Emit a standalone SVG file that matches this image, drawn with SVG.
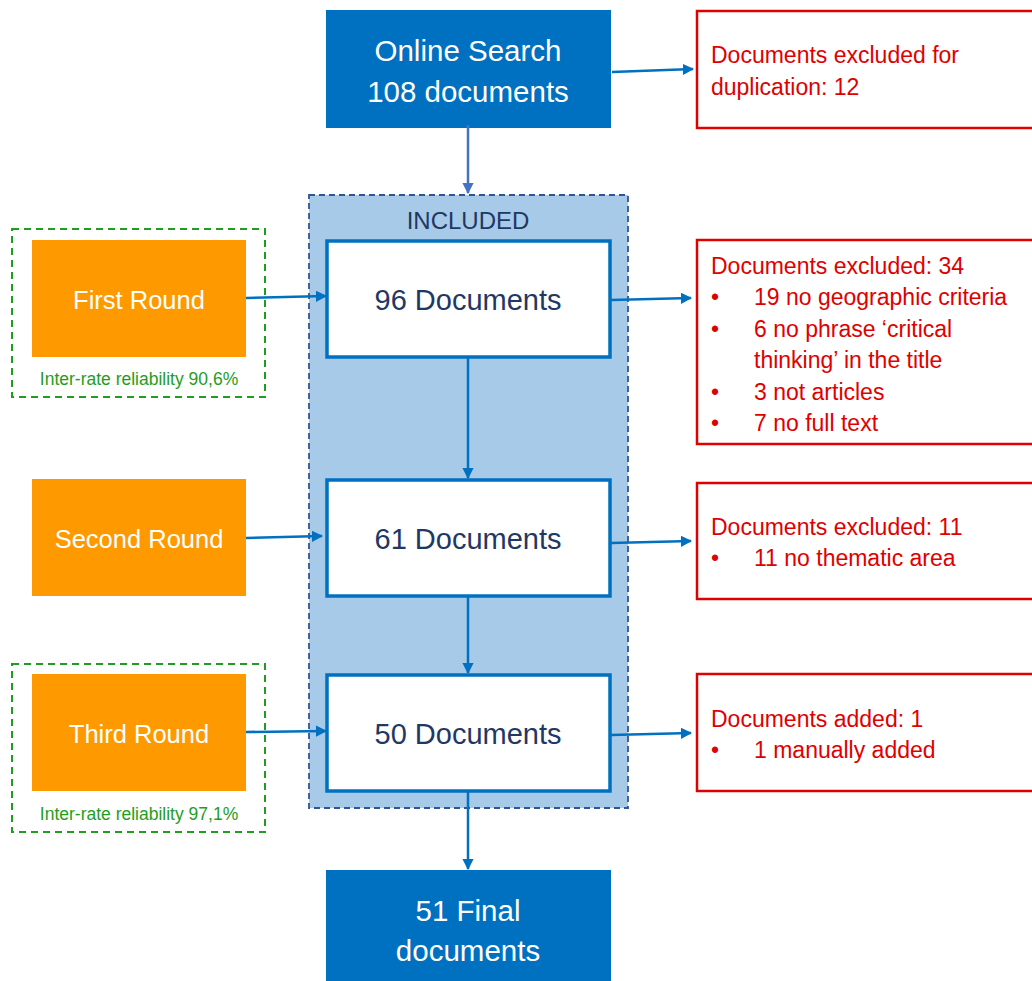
<svg xmlns="http://www.w3.org/2000/svg" width="1032" height="981" viewBox="0 0 1032 981">
<style>
text{font-family:"Liberation Sans",Arial,sans-serif}
.blue{fill:#0070C0}
.wt{fill:#fff;font-size:29.5px;text-anchor:middle}
.doc{fill:#fff;stroke:#0070C0;stroke-width:3.5}
.dt{fill:#1F3864;font-size:29px;text-anchor:middle}
.org{fill:#FF9900}
.ot{fill:#fff;font-size:25.5px;text-anchor:middle}
.red{fill:#fff;stroke:#E00000;stroke-width:2.5}
.rt{fill:#E00000;font-size:23px}
.grn{fill:none;stroke:#1E9E1E;stroke-width:2;stroke-dasharray:7,5}
.gt{fill:#1E9E1E;font-size:17.5px;text-anchor:middle}
.con{stroke:#0070C0;stroke-width:2.5;fill:none;marker-end:url(#ah)}
</style>
<defs>
<marker id="ah" viewBox="0 0 10 10" refX="9" refY="5" markerWidth="4.5" markerHeight="4.5" orient="auto" markerUnits="strokeWidth">
<path d="M0,0 L10,5 L0,10 z" fill="#0070C0"/>
</marker>
<marker id="ah2" viewBox="0 0 10 10" refX="9" refY="5" markerWidth="4.5" markerHeight="4.5" orient="auto" markerUnits="strokeWidth">
<path d="M0,0 L10,5 L0,10 z" fill="#4472C4"/>
</marker>
</defs>
<g id="included">
<rect x="309" y="195" width="319" height="613" fill="#A6CAE8" stroke="#2F5597" stroke-width="1.8" stroke-dasharray="6,4"/>
<text x="468" y="229" fill="#1F3864" font-size="24" text-anchor="middle">INCLUDED</text>
</g>
<g id="online">
<rect class="blue" x="326" y="10" width="285" height="118"/>
<text class="wt" x="468" y="61">Online Search</text>
<text class="wt" x="468" y="102">108 documents</text>
</g>
<g id="dup">
<rect class="red" x="697" y="11" width="340" height="117"/>
<text class="rt" x="711" y="63">Documents excluded for</text>
<text class="rt" x="711" y="95">duplication: 12</text>
</g>
<g id="d96">
<rect class="doc" x="327" y="241" width="283" height="116"/>
<text class="dt" x="468" y="310">96 Documents</text>
</g>
<g id="d61">
<rect class="doc" x="327" y="480" width="283" height="116"/>
<text class="dt" x="468" y="549">61 Documents</text>
</g>
<g id="d50">
<rect class="doc" x="327" y="675" width="283" height="116"/>
<text class="dt" x="468" y="744">50 Documents</text>
</g>
<g id="final">
<rect class="blue" x="326" y="870" width="285" height="111"/>
<text class="wt" x="468" y="921">51 Final</text>
<text class="wt" x="468" y="961">documents</text>
</g>
<g id="r1">
<rect class="grn" x="12" y="229" width="253" height="168"/>
<rect class="org" x="32" y="240" width="214" height="117"/>
<text class="ot" x="139" y="309">First Round</text>
<text class="gt" x="139" y="385">Inter-rate reliability 90,6%</text>
</g>
<g id="r2">
<rect class="org" x="32" y="479" width="214" height="117"/>
<text class="ot" x="139" y="548">Second Round</text>
</g>
<g id="r3">
<rect class="grn" x="12" y="664" width="253" height="168"/>
<rect class="org" x="32" y="674" width="214" height="117"/>
<text class="ot" x="139" y="743">Third Round</text>
<text class="gt" x="139" y="820">Inter-rate reliability 97,1%</text>
</g>
<g id="ex34">
<rect class="red" x="697" y="240" width="340" height="204"/>
<text class="rt" x="711" y="274">Documents excluded: 34</text>
<text class="rt" x="711" y="305">•</text><text class="rt" x="754" y="305">19 no geographic criteria</text>
<text class="rt" x="711" y="337">•</text><text class="rt" x="754" y="337">6 no phrase ‘critical</text>
<text class="rt" x="754" y="368">thinking’ in the title</text>
<text class="rt" x="711" y="400">•</text><text class="rt" x="754" y="400">3 not articles</text>
<text class="rt" x="711" y="431">•</text><text class="rt" x="754" y="431">7 no full text</text>
</g>
<g id="ex11">
<rect class="red" x="697" y="483" width="340" height="116"/>
<text class="rt" x="711" y="535">Documents excluded: 11</text>
<text class="rt" x="711" y="566">•</text><text class="rt" x="754" y="566">11 no thematic area</text>
</g>
<g id="add1">
<rect class="red" x="697" y="674" width="340" height="117"/>
<text class="rt" x="711" y="727">Documents added: 1</text>
<text class="rt" x="711" y="758">•</text><text class="rt" x="754" y="758">1 manually added</text>
</g>
<g id="connectors">
<line x1="468" y1="125" x2="468" y2="193" stroke="#4472C4" stroke-width="2.5" marker-end="url(#ah2)"/>
<line class="con" x1="612" y1="72" x2="693" y2="69"/>
<line class="con" x1="246" y1="298" x2="326" y2="296"/>
<line class="con" x1="246" y1="538" x2="322" y2="536"/>
<line class="con" x1="246" y1="732" x2="326" y2="731"/>
<line class="con" x1="611" y1="300" x2="691" y2="298"/>
<line class="con" x1="611" y1="543" x2="691" y2="541"/>
<line class="con" x1="611" y1="735" x2="691" y2="733"/>
<line class="con" x1="468" y1="358" x2="468" y2="478"/>
<line class="con" x1="468" y1="597" x2="468" y2="673"/>
<line class="con" x1="468" y1="792" x2="468" y2="869"/>
</g>
</svg>
